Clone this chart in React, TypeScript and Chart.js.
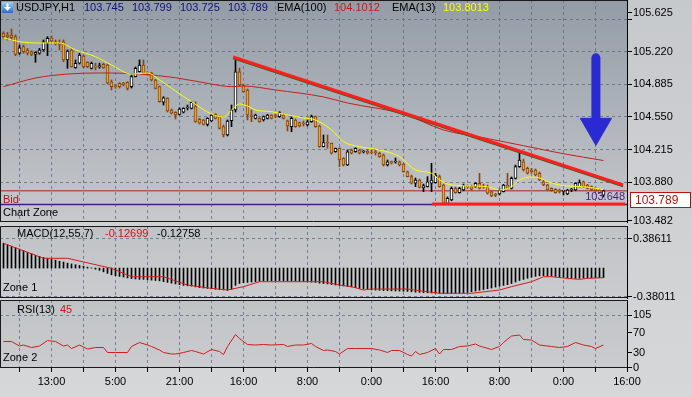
import React, { useEffect, useRef } from 'react';
import { Chart, registerables } from 'chart.js';
Chart.register(...registerables);

// ---------------- data ----------------
const opens = [
  105.412, 105.394, 105.394, 105.377, 105.206, 105.274, 105.240, 105.222, 105.195, 105.206,
  105.240, 105.309, 105.366, 105.325, 105.309, 105.325, 105.137, 105.240, 105.057, 105.103,
  105.178, 105.113, 105.051, 105.068, 105.068, 105.092, 105.085, 104.913, 104.869, 104.897,
  104.889, 104.907, 104.862, 104.965, 105.016, 105.085, 105.010, 105.000, 104.931, 104.862,
  104.701, 104.742, 104.622, 104.598, 104.577, 104.598, 104.642, 104.639, 104.656, 104.526,
  104.519, 104.474, 104.508, 104.577, 104.553, 104.450, 104.364, 104.511, 104.622, 105.016,
  104.879, 104.828, 104.570, 104.536, 104.536, 104.519, 104.536, 104.570, 104.560, 104.553,
  104.570, 104.511, 104.450, 104.519, 104.491, 104.488, 104.467, 104.501, 104.553, 104.457,
  104.244, 104.285, 104.279, 104.192, 104.227, 104.124, 104.055, 104.210, 104.192, 104.210,
  104.192, 104.199, 104.189, 104.186, 104.176, 104.158, 104.055, 104.086, 104.086, 104.089,
  104.065, 103.986, 103.935, 103.867, 103.901, 103.818, 103.832, 103.867, 103.873, 103.935,
  103.849, 103.660, 103.695, 103.815, 103.770, 103.798, 103.832, 103.839, 103.832, 103.867,
  103.832, 103.832, 103.780, 103.746, 103.756, 103.780, 103.849, 103.815, 103.918, 104.038,
  104.089, 104.021, 104.004, 104.004, 103.970, 103.883, 103.849, 103.815, 103.805, 103.790,
  103.784, 103.756, 103.798, 103.798, 103.832, 103.883, 103.849, 103.832, 103.815, 103.798,
  103.745,
];
const closes = [
  105.377, 105.377, 105.366, 105.195, 105.263, 105.222, 105.206, 105.195, 105.216, 105.240,
  105.325, 105.360, 105.332, 105.301, 105.298, 105.137, 105.229, 105.068, 105.103, 105.188,
  105.068, 105.068, 105.103, 105.064, 105.075, 105.057, 104.897, 104.862, 104.862, 104.862,
  104.886, 104.845, 104.965, 105.051, 105.085, 105.000, 105.003, 104.931, 104.845, 104.707,
  104.748, 104.611, 104.588, 104.570, 104.632, 104.639, 104.645, 104.701, 104.501, 104.485,
  104.474, 104.536, 104.570, 104.536, 104.433, 104.364, 104.508, 104.622, 105.016, 104.879,
  104.810, 104.570, 104.553, 104.570, 104.501, 104.553, 104.570, 104.536, 104.555, 104.594,
  104.536, 104.457, 104.536, 104.450, 104.457, 104.477, 104.501, 104.553, 104.450, 104.244,
  104.285, 104.282, 104.176, 104.227, 104.107, 104.055, 104.192, 104.176, 104.227, 104.176,
  104.194, 104.176, 104.179, 104.182, 104.141, 104.055, 104.089, 104.079, 104.089, 104.055,
  103.986, 103.935, 103.867, 103.901, 103.825, 103.844, 103.883, 103.901, 103.952, 103.832,
  103.661, 103.712, 103.815, 103.770, 103.815, 103.849, 103.829, 103.805, 103.867, 103.815,
  103.829, 103.764, 103.736, 103.743, 103.798, 103.849, 103.815, 103.918, 104.038, 104.107,
  104.004, 103.970, 103.986, 103.952, 103.901, 103.849, 103.798, 103.790, 103.770, 103.784,
  103.787, 103.798, 103.801, 103.867, 103.873, 103.832, 103.815, 103.798, 103.790, 103.770,
  103.789,
];
const highs = [
  105.428, 105.422, 105.456, 105.394, 105.291, 105.291, 105.257, 105.232, 105.222, 105.257,
  105.343, 105.377, 105.384, 105.343, 105.343, 105.343, 105.240, 105.250, 105.137, 105.206,
  105.188, 105.119, 105.116, 105.103, 105.103, 105.103, 105.095, 104.931, 104.879, 104.903,
  104.907, 104.913, 104.982, 105.064, 105.137, 105.137, 105.016, 105.010, 104.938, 104.869,
  104.759, 104.748, 104.632, 104.604, 104.645, 104.645, 104.673, 104.707, 104.707, 104.536,
  104.526, 104.542, 104.577, 104.584, 104.560, 104.467, 104.519, 104.673, 105.137, 105.054,
  104.889, 104.838, 104.622, 104.580, 104.542, 104.560, 104.577, 104.573, 104.580, 104.604,
  104.580, 104.519, 104.553, 104.529, 104.498, 104.508, 104.519, 104.570, 104.560, 104.467,
  104.364, 104.364, 104.282, 104.230, 104.233, 104.130, 104.210, 104.220, 104.233, 104.217,
  104.202, 104.210, 104.210, 104.210, 104.186, 104.168, 104.107, 104.096, 104.127, 104.096,
  104.073, 103.993, 103.952, 103.921, 103.911, 103.859, 103.935, 104.073, 103.970, 103.952,
  103.859, 103.726, 103.829, 103.829, 103.825, 103.859, 103.849, 103.849, 103.873, 103.970,
  103.859, 103.849, 103.787, 103.764, 103.808, 103.856, 103.970, 103.932, 104.055, 104.192,
  104.117, 104.035, 104.021, 104.014, 103.983, 103.901, 103.856, 103.821, 103.811, 103.808,
  103.790, 103.805, 103.815, 103.873, 103.901, 103.890, 103.856, 103.839, 103.821, 103.805,
  103.799,
];
const lows = [
  105.360, 105.343, 105.343, 105.181, 105.195, 105.206, 105.188, 105.181, 105.113, 105.195,
  105.229, 105.181, 105.322, 105.291, 105.240, 105.119, 105.051, 105.064, 105.051, 105.095,
  105.057, 105.057, 105.044, 105.034, 105.051, 105.051, 104.889, 104.828, 104.845, 104.848,
  104.869, 104.828, 104.848, 104.962, 105.013, 104.992, 104.982, 104.920, 104.838, 104.701,
  104.673, 104.601, 104.580, 104.529, 104.570, 104.591, 104.622, 104.632, 104.495, 104.477,
  104.467, 104.457, 104.501, 104.529, 104.426, 104.344, 104.354, 104.450, 104.601, 104.869,
  104.804, 104.519, 104.501, 104.529, 104.495, 104.508, 104.529, 104.529, 104.542, 104.546,
  104.529, 104.405, 104.398, 104.443, 104.447, 104.457, 104.457, 104.495, 104.443, 104.237,
  104.241, 104.227, 104.168, 104.186, 104.038, 104.045, 104.048, 104.168, 104.186, 104.168,
  104.179, 104.168, 104.168, 104.158, 104.134, 104.045, 104.045, 104.065, 104.073, 104.045,
  103.980, 103.932, 103.859, 103.832, 103.818, 103.780, 103.829, 103.780, 103.867, 103.825,
  103.648, 103.656, 103.687, 103.764, 103.764, 103.790, 103.815, 103.798, 103.825, 103.808,
  103.815, 103.756, 103.729, 103.729, 103.746, 103.777, 103.808, 103.808, 103.911, 104.031,
  103.993, 103.962, 103.970, 103.942, 103.893, 103.842, 103.790, 103.784, 103.764, 103.767,
  103.746, 103.749, 103.780, 103.790, 103.829, 103.825, 103.808, 103.790, 103.784, 103.764,
  103.725,
];

const ema13Idx = [0, 4, 9, 14, 18, 23, 27, 32, 36, 39, 43, 47, 52, 55, 57, 59, 61, 63, 67, 71, 75, 78, 82, 85, 89, 94, 99, 103, 107, 109, 112, 117, 121, 124, 127, 129, 132, 134, 137, 141, 145, 150];
const ema13Val = [105.366, 105.325, 105.312, 105.312, 105.240, 105.171, 105.085, 104.992, 105.003, 104.931, 104.817, 104.707, 104.580, 104.550, 104.622, 104.683, 104.663, 104.622, 104.604, 104.570, 104.539, 104.519, 104.416, 104.295, 104.244, 104.210, 104.141, 104.004, 103.970, 103.901, 103.849, 103.839, 103.832, 103.798, 103.832, 103.901, 103.932, 103.921, 103.870, 103.839, 103.832, 103.8013];

const ema100Idx = [0, 8, 16, 24, 34, 43, 52, 57, 60, 68, 80, 86, 100, 110, 120, 130, 140, 150];
const ema100Val = [104.862, 104.951, 104.992, 105.003, 104.992, 104.954, 104.889, 104.862, 104.868, 104.828, 104.756, 104.694, 104.580, 104.416, 104.336, 104.254, 104.171, 104.1012];

const macdHist = [
  0.33, 0.31, 0.29, 0.27, 0.25, 0.23, 0.21, 0.19, 0.17, 0.155,
  0.14, 0.13, 0.12, 0.105, 0.09, 0.08, 0.065, 0.055, 0.045, 0.035,
  0.025, 0.012, 0.002, -0.015, -0.03, -0.05, -0.07, -0.09, -0.10, -0.11,
  -0.12, -0.13, -0.14, -0.145, -0.15, -0.15, -0.155, -0.16, -0.165, -0.17,
  -0.18, -0.19, -0.20, -0.21, -0.22, -0.23, -0.235, -0.24, -0.25, -0.26,
  -0.265, -0.27, -0.275, -0.28, -0.285, -0.29, -0.295, -0.28, -0.23, -0.205,
  -0.195, -0.19, -0.185, -0.18, -0.175, -0.17, -0.17, -0.168, -0.168, -0.166,
  -0.168, -0.17, -0.17, -0.172, -0.175, -0.178, -0.18, -0.185, -0.19, -0.2,
  -0.205, -0.21, -0.218, -0.225, -0.232, -0.238, -0.244, -0.25, -0.26, -0.27,
  -0.278, -0.284, -0.29, -0.292, -0.295, -0.298, -0.3, -0.302, -0.304, -0.306,
  -0.308, -0.31, -0.315, -0.32, -0.323, -0.326, -0.328, -0.33, -0.332, -0.335,
  -0.338, -0.338, -0.336, -0.334, -0.332, -0.328, -0.322, -0.315, -0.305, -0.295,
  -0.285, -0.275, -0.265, -0.252, -0.24, -0.23, -0.22, -0.205, -0.185, -0.165,
  -0.15, -0.135, -0.122, -0.11, -0.102, -0.1, -0.104, -0.108, -0.112, -0.118,
  -0.124, -0.13, -0.136, -0.138, -0.136, -0.132, -0.13, -0.129, -0.128, -0.128,
  -0.12699,
];
const signalIdx = [0, 10, 16, 27, 32, 40, 46, 52, 56, 60, 64, 80, 84, 87, 90, 92, 101, 106, 109, 117, 124, 127, 132, 135, 137, 141, 144, 146, 150];
const signalVal = [0.329, 0.13, 0.13, -0.003, -0.115, -0.115, -0.225, -0.27, -0.291, -0.247, -0.181, -0.181, -0.225, -0.247, -0.291, -0.278, -0.278, -0.314, -0.335, -0.335, -0.291, -0.247, -0.181, -0.115, -0.115, -0.137, -0.150, -0.137, -0.12758];

const rsiIdx = [0, 2, 4, 5, 7, 9, 11, 13, 15, 16, 17, 19, 21, 23, 25, 26, 28, 31, 32, 34, 36, 37, 39, 40, 42, 43, 45, 47, 48, 50, 52, 54, 55, 56, 58, 59, 61, 63, 65, 67, 70, 71, 73, 75, 77, 78, 80, 81, 83, 84, 86, 88, 92, 94, 96, 97, 99, 101, 102, 103, 104, 106, 108, 109, 110, 112, 114, 116, 118, 119, 122, 124, 125, 127, 129, 130, 132, 134, 137, 139, 141, 143, 145, 147, 148, 150];
const rsiVal = [52, 52, 43, 45, 40, 43, 54, 52, 43, 45, 38, 45, 37, 40, 40, 30, 30, 30, 42, 50, 45, 42, 35, 30, 27, 27, 30, 34, 32, 27, 36, 32, 26, 42, 66, 58, 46, 45, 46, 45, 46, 42, 45, 45, 48, 42, 34, 35, 32, 27, 38, 38, 38, 35, 30, 34, 34, 26, 23, 32, 26, 30, 38, 27, 36, 36, 42, 43, 47, 43, 36, 42, 50, 63, 65, 56, 55, 45, 42, 40, 42, 50, 45, 42, 38, 45];

const gridIdx = [4, 12, 20, 28, 36, 44, 52, 60, 68, 76, 84, 92, 100, 108, 116, 124, 132, 140, 148, 156];
const timeIdx = [12, 28, 44, 60, 76, 92, 108, 124, 140, 156];
const timeLabels = ['13:00', '5:00', '21:00', '16:00', '8:00', '0:00', '16:00', '8:00', '0:00', '16:00'];

const priceTicks = [103.482, 103.880, 104.215, 104.550, 104.885, 105.220, 105.555, 105.625];
const priceLabelled = [103.482, 103.880, 104.215, 104.550, 104.885, 105.220, 105.625];
const priceGrid = [103.880, 104.215, 104.550, 104.885, 105.220, 105.555];
const macdTicks = [-0.38011, 0.38611];
const rsiTicks = [0, 30, 70, 105];
const rsiGrid = [0, 105];

const trendIdx = [57.4, 154.9];
const trendVal = [105.1675, 103.849];
const supportIdx = [107.1, 155.5];
const supportVal = [103.653, 103.653];
const bidPrice = 103.789;
const lowPrice = 103.648;
const arrowIdx = [148.1, 148.1];
const arrowVal = [105.159, 104.50];
const arrowHeadVal = 104.443;

const symbolText = 'USDJPY,H1';
const ohlcText = ['103.745', '103.799', '103.725', '103.789'];
const ema100Text = '104.1012';
const ema13Text = '103.8013';
const macdText = ['-0.12699', '-0.12758'];
const rsiText = '45';

// ---------------- styling ----------------
const X_MIN = -0.875;
const X_MAX = 155.875;
const FAMILY = '"Liberation Sans", Arial, sans-serif';
const FONT = '11px ' + FAMILY;
const GRID = 'rgba(92,110,132,0.8)';
const CLEAR = 'rgba(0,0,0,0)';

const xScale = (showLabels: boolean) => ({
  type: 'linear',
  min: X_MIN,
  max: X_MAX,
  offset: false,
  afterBuildTicks: (s: any) => {
    s.ticks = gridIdx.map((v) => ({ value: Math.min(v, X_MAX) }));
  },
  afterFit: (s: any) => {
    s.height = showLabels ? 29 : 0;
    s.paddingLeft = 0;
    s.paddingRight = 0;
  },
  grid: {
    offset: false,
    color: (c: any) => (c.tick && c.tick.value >= X_MAX ? CLEAR : GRID),
    lineWidth: 1,
    drawTicks: showLabels,
    tickLength: 4,
    tickColor: '#000',
  },
  border: { display: false, dash: [3, 3] },
  ticks: {
    display: showLabels,
    autoSkip: false,
    maxRotation: 0,
    minRotation: 0,
    padding: 3,
    color: '#000',
    font: { family: FAMILY, size: 11 },
    callback: (v: number) => {
      const k = timeIdx.findIndex((t) => Math.min(t, X_MAX) === v);
      return k >= 0 ? timeLabels[k] : '';
    },
  },
});

const yScale = (min: number, max: number, ticks: number[], labelled: number[], gridVals: number[], digits: number) => ({
  type: 'linear',
  position: 'right',
  min,
  max,
  beginAtZero: false,
  afterBuildTicks: (s: any) => {
    s.ticks = ticks.map((v) => ({ value: v }));
  },
  afterFit: (s: any) => {
    s.width = 65;
    s.paddingTop = 0;
    s.paddingBottom = 0;
  },
  grid: {
    color: (c: any) => (c.tick && gridVals.includes(c.tick.value) ? GRID : CLEAR),
    lineWidth: 1,
    drawTicks: true,
    tickLength: 5,
    tickColor: '#000',
  },
  border: { display: true, color: '#000', width: 1, dash: [3, 3] },
  ticks: {
    color: '#000',
    padding: 1,
    autoSkip: false,
    font: { family: FAMILY, size: 11 },
    callback: (v: number) => (labelled.includes(v) ? v.toFixed(digits) : ''),
  },
});

function panelPlugin(id: string, top: string, bottom: string, draw?: (c: any) => void) {
  return {
    id,
    beforeDraw(chart: any) {
      const { ctx, chartArea: a } = chart;
      const g = ctx.createLinearGradient(0, a.top, 0, a.bottom);
      g.addColorStop(0, top);
      g.addColorStop(1, bottom);
      ctx.save();
      ctx.fillStyle = g;
      ctx.fillRect(a.left, a.top, a.right - a.left, a.bottom - a.top);
      ctx.restore();
    },
    afterDraw(chart: any) {
      const { ctx, chartArea: a } = chart;
      ctx.save();
      ctx.strokeStyle = '#1a1a1a';
      ctx.lineWidth = 1;
      ctx.beginPath();
      ctx.moveTo(a.left + 0.5, a.bottom);
      ctx.lineTo(a.left + 0.5, a.top + 0.5);
      ctx.lineTo(a.right, a.top + 0.5);
      ctx.moveTo(a.left, a.bottom - 0.5);
      ctx.lineTo(a.right, a.bottom - 0.5);
      ctx.stroke();
      ctx.restore();
      if (draw) draw(chart);
    },
  };
}

const baseOptions = {
  responsive: false,
  maintainAspectRatio: false,
  animation: false,
  devicePixelRatio: 1,
  events: [],
  plugins: { legend: { display: false }, tooltip: { enabled: false }, title: { display: false } },
};

function pts(idx: number[], val: number[]) {
  return idx.map((x, k) => ({ x, y: val[k] }));
}

function mainConfig(): any {
  const bull = closes.map((c, i) => c >= opens[i]);
  const bodies = opens.map((o, i) => ({ x: i, y: [o, closes[i]] }));
  const wicks = opens.map((_, i) => ({ x: i, y: [lows[i], highs[i]] }));
  const drawTexts = (chart: any) => {
    const { ctx, chartArea: a, scales } = chart;
    const ys = scales.y;
    ctx.save();
    const g = ctx.createLinearGradient(0, 2, 0, 13);
    g.addColorStop(0, '#9fd0f5');
    g.addColorStop(1, '#2a6cc4');
    ctx.fillStyle = g;
    ctx.fillRect(2, 2, 11, 11);
    ctx.fillStyle = '#fff';
    ctx.fillRect(6.5, 3.5, 2, 4);
    ctx.beginPath();
    ctx.moveTo(4, 7);
    ctx.lineTo(11, 7);
    ctx.lineTo(7.5, 11);
    ctx.closePath();
    ctx.fill();
    ctx.font = FONT;
    ctx.textBaseline = 'middle';
    ctx.textAlign = 'left';
    const items: [number, string, string][] = [
      [16, symbolText, '#000'],
      [84, ohlcText[0], '#10107a'],
      [132, ohlcText[1], '#10107a'],
      [180, ohlcText[2], '#10107a'],
      [228, ohlcText[3], '#10107a'],
      [277, 'EMA(100)', '#000'],
      [334, ema100Text, '#d01414'],
      [392, 'EMA(13)', '#000'],
      [443, ema13Text, '#ffff00'],
    ];
    items.forEach(([x, t, c]) => {
      ctx.fillStyle = c;
      ctx.fillText(t, x, 7.5);
    });
    ctx.fillStyle = '#b01818';
    ctx.fillText('Bid', 3, a.top + 199.5);
    ctx.fillStyle = '#000';
    ctx.fillText('Chart Zone', 3, a.top + 213);
    ctx.fillStyle = '#4a1a8a';
    ctx.textAlign = 'right';
    ctx.fillText(lowPrice.toFixed(3), 625, ys.getPixelForValue(lowPrice) - 8);
    const py = Math.round(ys.getPixelForValue(bidPrice));
    ctx.fillStyle = '#ffffff';
    ctx.fillRect(630, py + 1, 61, 16);
    ctx.strokeStyle = '#c01010';
    ctx.lineWidth = 1;
    ctx.strokeRect(630.5, py + 1.5, 60, 15);
    ctx.fillStyle = '#c01010';
    ctx.textAlign = 'left';
    ctx.font = '12px ' + FAMILY;
    ctx.fillText(bidPrice.toFixed(3), 635, py + 9.5);
    ctx.restore();
  };
  return {
    type: 'bar',
    data: {
      datasets: [
        { type: 'line', data: [{ x: arrowIdx[0], y: arrowHeadVal }], showLine: false, pointStyle: 'triangle', rotation: 180, pointRadius: 18, pointBackgroundColor: '#2a2ad2', pointBorderColor: '#2a2ad2', pointBorderWidth: 1 },
        { type: 'line', data: pts(arrowIdx, arrowVal), borderColor: '#2a2ad2', borderWidth: 9, borderCapStyle: 'round', pointRadius: 0 },
        { type: 'line', data: pts(trendIdx, trendVal), borderColor: '#ff1e1e', borderWidth: 3, pointRadius: 0 },
        { type: 'line', data: pts(trendIdx, trendVal.map((v) => v - 0.014)), borderColor: '#1f6a1f', borderWidth: 2, pointRadius: 0 },
        { type: 'line', data: pts(supportIdx, supportVal), borderColor: '#ff1e1e', borderWidth: 3, pointRadius: 0 },
        { type: 'line', data: pts(ema13Idx, ema13Val), borderColor: '#ffff00', borderWidth: 1, pointRadius: 0, cubicInterpolationMode: 'monotone' },
        { type: 'line', data: pts(ema100Idx, ema100Val), borderColor: '#c81e1e', borderWidth: 1, pointRadius: 0, cubicInterpolationMode: 'monotone' },
        {
          type: 'bar', data: bodies, grouped: false, barThickness: 3, minBarLength: 1,
          backgroundColor: bull.map((b) => (b ? '#ffffff' : '#f2a12a')),
          borderColor: bull.map((b) => (b ? '#000000' : '#8a4410')),
          borderWidth: 1, borderSkipped: false,
        },
        {
          type: 'bar', data: wicks, grouped: false, barThickness: 1,
          backgroundColor: bull.map((b) => (b ? '#000000' : '#8a4410')), borderWidth: 0,
        },
        { type: 'line', data: [{ x: X_MIN, y: bidPrice }, { x: X_MAX, y: bidPrice }], borderColor: '#b02020', borderWidth: 1, pointRadius: 0 },
        { type: 'line', data: [{ x: X_MIN, y: lowPrice }, { x: X_MAX, y: lowPrice }], borderColor: '#4a1a8a', borderWidth: 1.5, pointRadius: 0 },
      ],
    },
    options: {
      ...baseOptions,
      layout: { autoPadding: false, padding: { top: 0, left: 0, right: 0, bottom: 8 } },
      scales: {
        x: xScale(false),
        y: yScale(103.468, 105.7546, priceTicks, priceLabelled, priceGrid, 3),
      },
    },
    plugins: [panelPlugin('mainPanel', '#939ca6', '#c7c9cc', drawTexts)],
  };
}

function macdConfig(): any {
  const drawTexts = (chart: any) => {
    const { ctx, chartArea: a } = chart;
    ctx.save();
    ctx.font = FONT;
    ctx.textBaseline = 'middle';
    ctx.fillStyle = '#000';
    ctx.fillText('MACD(12,55,7)', 17, a.top + 7.5);
    ctx.fillStyle = '#d01414';
    ctx.fillText(macdText[0], 105, a.top + 7.5);
    ctx.fillStyle = '#000';
    ctx.fillText(macdText[1], 157, a.top + 7.5);
    ctx.fillText('Zone 1', 3, a.top + 62);
    ctx.restore();
  };
  return {
    type: 'bar',
    data: {
      datasets: [
        { type: 'line', data: pts(signalIdx, signalVal), borderColor: '#d01e1e', borderWidth: 1, pointRadius: 0, tension: 0 },
        { type: 'bar', data: macdHist.map((v, i) => ({ x: i, y: v })), grouped: false, barThickness: 1, backgroundColor: '#000', borderWidth: 0 },
      ],
    },
    options: {
      ...baseOptions,
      layout: { autoPadding: false, padding: { top: 6, left: 0, right: 0, bottom: 12 } },
      scales: {
        x: xScale(false),
        y: yScale(-0.3974, 0.5587, macdTicks, macdTicks, macdTicks, 5),
      },
    },
    plugins: [panelPlugin('macdPanel', '#c0c3c6', '#cacccf', drawTexts)],
  };
}

function rsiConfig(): any {
  const drawTexts = (chart: any) => {
    const { ctx, chartArea: a } = chart;
    ctx.save();
    ctx.font = FONT;
    ctx.textBaseline = 'middle';
    ctx.fillStyle = '#000';
    ctx.fillText('RSI(13)', 17, a.top + 9.5);
    ctx.fillStyle = '#d01414';
    ctx.fillText(rsiText, 60, a.top + 9.5);
    ctx.fillStyle = '#000';
    ctx.fillText('Zone 2', 3, a.top + 58);
    ctx.restore();
  };
  return {
    type: 'line',
    data: {
      datasets: [
        { data: pts(rsiIdx, rsiVal), borderColor: '#d01e1e', borderWidth: 1, pointRadius: 0, tension: 0 },
      ],
    },
    options: {
      ...baseOptions,
      layout: { autoPadding: false, padding: { top: 6, left: 0, right: 0, bottom: 0 } },
      scales: {
        x: xScale(true),
        y: yScale(-1, 135, rsiTicks, rsiTicks, rsiGrid, 0),
      },
    },
    plugins: [panelPlugin('rsiPanel', '#c0c3c6', '#cacccf', drawTexts)],
  };
}

export default function App() {
  const r1 = useRef<HTMLCanvasElement>(null);
  const r2 = useRef<HTMLCanvasElement>(null);
  const r3 = useRef<HTMLCanvasElement>(null);
  useEffect(() => {
    const charts = [
      new Chart(r1.current as HTMLCanvasElement, mainConfig()),
      new Chart(r2.current as HTMLCanvasElement, macdConfig()),
      new Chart(r3.current as HTMLCanvasElement, rsiConfig()),
    ];
    return () => charts.forEach((c) => c.destroy());
  }, []);
  const cv = (top: number): React.CSSProperties => ({ position: 'absolute', left: 0, top, display: 'block' });
  return (
    <div style={{ position: 'fixed', left: 0, top: 0, width: 692, height: 397, overflow: 'hidden', background: 'linear-gradient(#c6c9cc, #d6d7d8)' }}>
      <canvas ref={r1} width={692} height={230} style={cv(0)} />
      <canvas ref={r2} width={692} height={90} style={cv(220)} />
      <canvas ref={r3} width={692} height={103} style={cv(294)} />
    </div>
  );
}
